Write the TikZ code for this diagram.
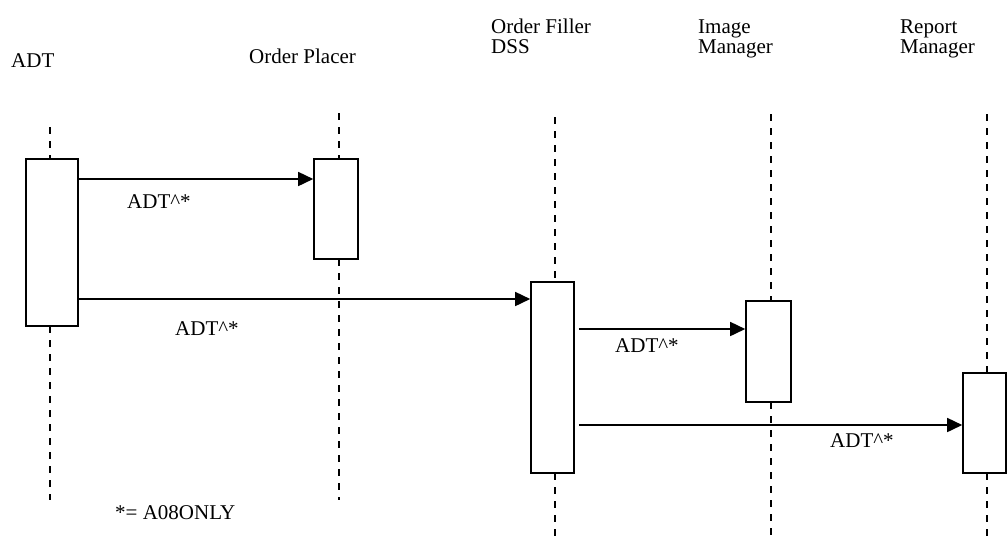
\documentclass[tikz,border=0pt]{standalone}
\usepackage{fontspec}
\setmainfont{Liberation Serif}
\usetikzlibrary{arrows.meta}
\begin{document}
\begin{tikzpicture}[x=1pt,y=-1pt,
  lbl/.style={anchor=base west,inner sep=0pt,font=\fontsize{21pt}{24pt}\selectfont},
  actbox/.style={draw,line width=1.6pt,fill=white,inner sep=0pt},
  life/.style={line width=1.6pt,dash pattern=on 7pt off 7pt},
  msg/.style={line width=1.6pt,-{Triangle[length=15pt,width=14pt]}}]
\useasboundingbox (0,0) rectangle (1008,542);
% headers
\node[lbl] (hadt) at (11,67) {ADT};
\node[lbl] (hop) at (249,63) {Order Placer};
\node[lbl] (hof1) at (491,33) {Order Filler};
\node[lbl] (hof2) at (491,53) {DSS};
\node[lbl] (him1) at (698,33) {Image};
\node[lbl] (him2) at (698,53) {Manager};
\node[lbl] (hrm1) at (900,33) {Report};
\node[lbl] (hrm2) at (900,53) {Manager};
% activation boxes
\node[actbox,minimum width=52pt,minimum height=167pt] (b1) at (52,242.5) {};
\node[actbox,minimum width=44pt,minimum height=100pt] (b2) at (336,209) {};
\node[actbox,minimum width=43pt,minimum height=191pt] (b3) at (552.5,377.5) {};
\node[actbox,minimum width=45pt,minimum height=101pt] (b4) at (768.5,351.5) {};
\node[actbox,minimum width=43pt,minimum height=100pt] (b5) at (984.5,423) {};
% lifeline ends
\coordinate (t1) at (50,127);  \coordinate (u1) at (50,159);  \coordinate (v1) at (50,326);  \coordinate (e1) at (50,500);
\coordinate (t2) at (339,113); \coordinate (u2) at (339,159); \coordinate (v2) at (339,259); \coordinate (e2) at (339,500);
\coordinate (t3) at (555,117); \coordinate (u3) at (555,282); \coordinate (v3) at (555,473); \coordinate (e3) at (555,542);
\coordinate (t4) at (771,114); \coordinate (u4) at (771,301); \coordinate (v4) at (771,402); \coordinate (e4) at (771,542);
\coordinate (t5) at (987,114); \coordinate (u5) at (987,373); \coordinate (v5) at (987,473); \coordinate (e5) at (987,542);
\begin{scope}[on background layer/.style={}]
\foreach \i in {1,...,5} {
  \draw[life] (t\i) -- (u\i);
  \draw[life] (v\i) -- (e\i);
}
\end{scope}
% messages
\draw[msg] (b1.east |- 0,179) -- (b2.west |- 0,179);
\draw[msg] (b1.east |- 0,299) -- (b3.west |- 0,299);
\draw[msg] ([xshift=4pt]b3.east |- 0,329) -- (b4.west |- 0,329);
\draw[msg] ([xshift=4pt]b3.east |- 0,425) -- (b5.west |- 0,425);
% message labels
\node[lbl] (m1) at (127,208) {ADT\textasciicircum*};
\node[lbl] (m2) at (175,335) {ADT\textasciicircum*};
\node[lbl] (m3) at (615,352) {ADT\textasciicircum*};
\node[lbl] (m4) at (830,447) {ADT\textasciicircum*};
% footnote
\node[lbl] (fn) at (115,519) {*= A08ONLY};
\end{tikzpicture}
\end{document}
